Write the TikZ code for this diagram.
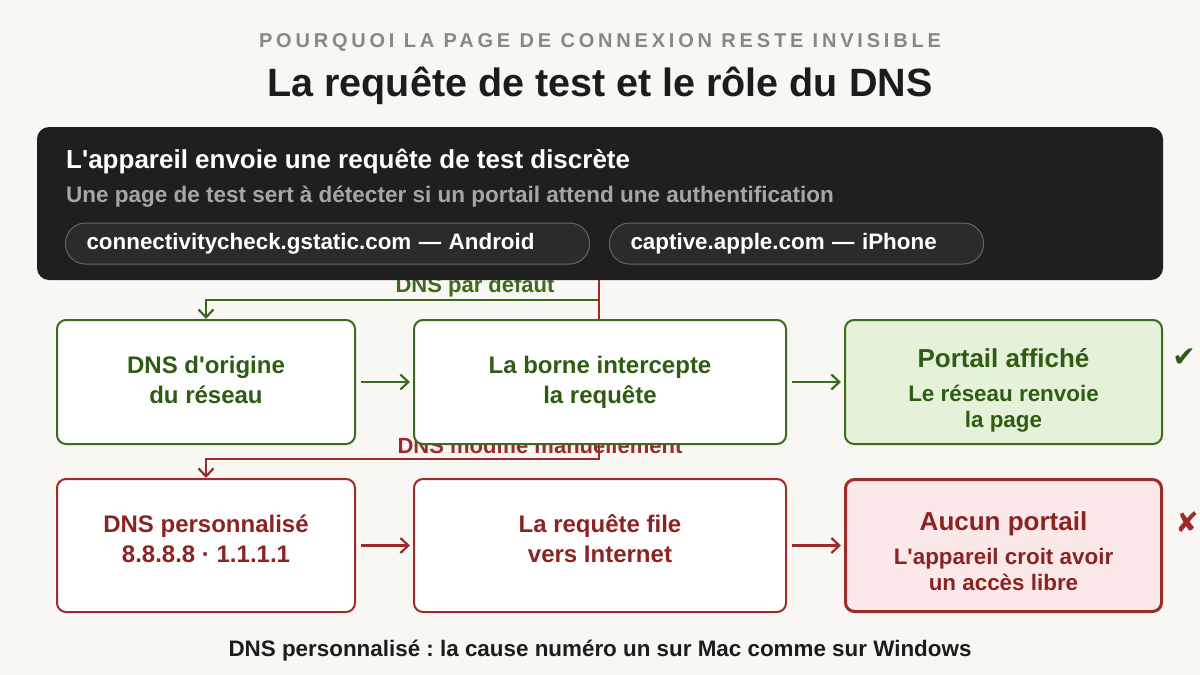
\documentclass[tikz,border=0pt]{standalone}
\usepackage{fontspec}
\setmainfont{Liberation Sans}[Ligatures=TeXOff]
\newfontfamily\symfont{DejaVu Sans}
\usepackage{tikz}
\usetikzlibrary{arrows.meta,positioning,backgrounds}
\definecolor{pagebg}{HTML}{F8F7F3}
\definecolor{inkx}{HTML}{1C1C1C}
\definecolor{greyx}{HTML}{878787}
\definecolor{darkx}{HTML}{1F1F1F}
\definecolor{pillbg}{HTML}{2B2B2B}
\definecolor{pillline}{HTML}{666666}
\definecolor{subgrey}{HTML}{A6A6A6}
\definecolor{greenx}{HTML}{3D6B1E}
\definecolor{greentxt}{HTML}{2E5C12}
\definecolor{greenbg}{HTML}{E5F1D8}
\definecolor{redx}{HTML}{9C2B2B}
\definecolor{redtxt}{HTML}{8C2323}
\definecolor{redbg}{HTML}{FBE8E8}
\newcommand{\fsz}[2]{\fontsize{#1}{#2}\selectfont\bfseries}
\newcommand{\drop}[1]{\rule{0pt}{#1}}
\newcommand{\lift}[1]{\rule[-#1]{0pt}{0pt}}
\tikzset{
  ar/.style={-{Straight Barb[length=8pt,width=15pt]},line width=2.2pt},
  box/.style={draw,line width=2pt,rounded corners=9pt,fill=white,align=center,inner sep=0pt,font=\fsz{24}{30}},
  pill/.style={draw=pillline,line width=1pt,fill=pillbg,rounded corners=20pt,minimum height=41pt,inner xsep=21pt,
    align=left,text=white,font=\fsz{22.4}{26}},
  lbl/.style={font=\fsz{22}{26},inner sep=0pt}
}
\begin{document}
\frenchspacing
\begin{tikzpicture}[x=1pt,y=-1pt]
\useasboundingbox (0,0) rectangle (1200,675);
\node[font=\fsz{20}{24}\addfontfeature{LetterSpace=19},text=greyx,anchor=base] (kicker) at (600,47) {POURQUOI LA PAGE DE CONNEXION RESTE INVISIBLE};
\node[font=\fsz{39.5}{44},text=inkx,anchor=base] (title) at (600,96) {La requête de test et le rôle du DNS};

\node[fill=darkx,rounded corners=12pt,minimum width=1126pt,minimum height=153pt] (probe) at (600,203.5) {};
\node[font=\fsz{26}{30},text=white,anchor=base west,inner sep=0pt] (probehead) at (66,168) {L'appareil envoie une requête de test discrète};
\node[font=\fsz{22.5}{26},text=subgrey,anchor=base west,inner sep=0pt] (probesub) at (66,202) {Une page de test sert à détecter si un portail attend une authentification};
\node[pill,text width=482pt] (android) at (327.5,243.5) {connectivitycheck.gstatic.com — Android};
\node[pill,text width=332pt] (iphone) at (796.5,243.5) {captive.apple.com — iPhone};

\node[box,draw=greenx,text=greentxt,minimum width=298pt,minimum height=124pt] (origdns) at (206,382) {DNS d'origine\\du réseau\lift{4pt}};
\node[box,draw=greenx,text=greentxt,minimum width=372pt,minimum height=124pt] (intercept) at (600,382) {La borne intercepte\\la requête\lift{4pt}};
\node[box,draw=greenx,fill=greenbg,text=greentxt,minimum width=317pt,minimum height=124pt,font=\fsz{22.4}{26}] (portal) at (1003.5,382)
  {{\fontsize{26}{30}\selectfont\drop{35pt}Portail affiché}\\[8pt]Le réseau renvoie\\la page};
\node[box,draw=redx,text=redtxt,minimum width=298pt,minimum height=133pt] (customdns) at (206,545.5) {DNS personnalisé\\8.8.8.8 · 1.1.1.1\lift{14pt}};
\node[box,draw=redx,text=redtxt,minimum width=372pt,minimum height=133pt] (leak) at (600,545.5) {La requête file\\vers Internet\lift{14pt}};
\node[box,draw=redx,line width=3pt,fill=redbg,text=redtxt,minimum width=316pt,minimum height=132pt,font=\fsz{22.4}{26}] (noportal) at (1003.5,545.5)
  {{\fontsize{26}{30}\selectfont\drop{31pt}Aucun portail}\\[8pt]L'appareil croit avoir\\un accès libre};

\node[font=\symfont\fontsize{28}{32}\selectfont,text=greentxt] (okmark) at (1184,358) {✔};
\node[font=\symfont\fontsize{28}{32}\selectfont,text=redx] (komark) at (1187,522) {✘};

\draw[ar,greenx,shorten <=5pt,shorten >=3pt] (origdns) -- (intercept);
\draw[ar,greenx,shorten <=5pt,shorten >=3pt] (intercept) -- (portal);
\draw[ar,redx,shorten <=5pt,shorten >=3pt] (customdns) -- (leak);
\draw[ar,redx,shorten <=5pt,shorten >=3pt] (leak) -- (noportal);

\begin{pgfonlayer}{background}
\fill[pagebg] (0,0) rectangle (1200,675);
\node[lbl,text=greenx] (deflbl) at (475,287) {DNS par défaut};
\node[lbl,text=redx] (modlbl) at (540,446) {DNS modifié manuellement};
\coordinate (split) at (599,280);
\draw[ar,greenx] (split) -- ++(0,20) -| (origdns.north);
\draw[ar,redx] (split) -- ++(0,179) -| (customdns.north);
\end{pgfonlayer}

\node[font=\fsz{22.4}{26},text=inkx,anchor=base] (footnote) at (600,656) {DNS personnalisé : la cause numéro un sur Mac comme sur Windows};
\end{tikzpicture}
\end{document}
